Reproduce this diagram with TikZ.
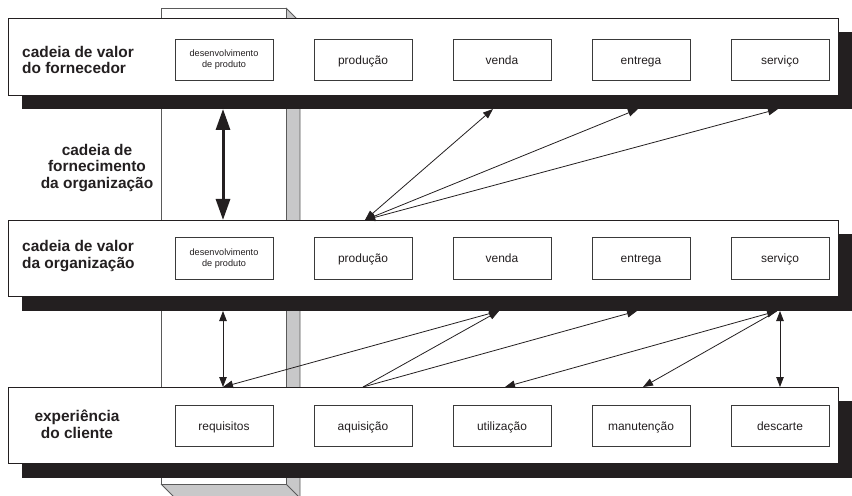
\documentclass[tikz,border=0pt]{standalone}
\usepackage{fontspec}
\setmainfont{Liberation Sans}
\usetikzlibrary{arrows.meta}
\definecolor{ink}{HTML}{231F20}
\definecolor{sidegray}{HTML}{C8C8C9}
\definecolor{pillaredge}{HTML}{5A5A5A}
\definecolor{boxedge}{HTML}{3A3A3A}

\tikzset{
  thintip/.tip={Triangle[length=10bp,width=7.5bp]},
  heavytip/.tip={Triangle[length=21bp,width=14bp]}
}

\begin{document}
\begin{tikzpicture}[x=1bp,y=-1bp,
  panel/.style={draw=ink,fill=white,line width=0.9bp},
  panelshadow/.style={fill=ink},
  pillarline/.style={draw=pillaredge,line width=0.8bp},
  stagebox/.style={draw=boxedge,fill=white,line width=0.8bp,minimum width=98bp,
    minimum height=41.5bp,inner sep=0pt,align=center,text=ink},
  stage/.style={stagebox,font=\fontsize{12}{14}\selectfont,
    text height=8.6bp,text depth=0.2bp},
  smallstage/.style={stagebox,font=\fontsize{9.2}{11}\selectfont},
  heading/.style={inner sep=0pt,text=ink,align=left,anchor=west,
    font=\fontsize{15.5}{17}\selectfont\bfseries},
  link/.style={draw=ink,line width=0.8bp,{thintip}-{thintip}},
  oneway/.style={draw=ink,line width=0.8bp,-{thintip}},
  strong link/.style={draw=ink,line width=3bp,{heavytip}-{heavytip}}
]
\useasboundingbox (0,0) rectangle (852,496);

% vertical pillar running behind the three bands
\fill[sidegray] (286,8) -- (300,22) -- (300,498) -- (286,484) -- cycle;
\fill[sidegray] (161,484) -- (286,484) -- (300,498) -- (175,498) -- cycle;
\fill[white] (161,8) rectangle (286,484);
\draw[pillarline] (161,8) rectangle (286,484);
\draw[pillarline] (286,8) -- (300,22) -- (300,498);
\draw[pillarline] (286,484) -- (300,498) (161,484) -- (175,498);

% shadows of the bands
\fill[panelshadow] (22,32) rectangle (852,109);
\fill[panelshadow] (22,234) rectangle (852,311);
\fill[panelshadow] (22,401) rectangle (852,478);

% the bands
\draw[panel] (8,18) rectangle (838,95);
\draw[panel] (8,220) rectangle (838,296);
\draw[panel] (8,387) rectangle (838,463);

% band titles
\node[heading] (t1) at (22,60) {cadeia de valor\\do fornecedor};
\node[heading] (t2) at (22,256.5) {cadeia de valor\\da organização};
\node[heading,align=center,anchor=center] (t3) at (77,424.5)
  {experiência\\do cliente};
\node[heading,align=center,anchor=center] (t0) at (97,168)
  {cadeia de\\fornecimento\\da organização};

% supplier value chain
\node[smallstage] (b11) at (224,60) {desenvolvimento\\de produto};
\node[stage] (b12) at (363,60) {produção};
\node[stage] (b13) at (502,60) {venda};
\node[stage] (b14) at (641,60) {entrega};
\node[stage] (b15) at (780,60) {serviço};

% organisation value chain
\node[smallstage] (b21) at (224,258.5) {desenvolvimento\\de produto};
\node[stage] (b22) at (363,258.5) {produção};
\node[stage] (b23) at (502,258.5) {venda};
\node[stage] (b24) at (641,258.5) {entrega};
\node[stage] (b25) at (780,258.5) {serviço};

% customer experience
\node[stage] (b31) at (224,426) {requisitos};
\node[stage] (b32) at (363,426) {aquisição};
\node[stage] (b33) at (502,426) {utilização};
\node[stage] (b34) at (641,426) {manutenção};
\node[stage] (b35) at (780,426) {descarte};

% attachment points on the band edges
\coordinate (s1a) at (223,109);
\coordinate (s1b) at (493,109);
\coordinate (s1c) at (638,109);
\coordinate (s1d) at (778,109);
\coordinate (p2a) at (223,220);
\coordinate (p2b) at (365,220);
\coordinate (s2a) at (223,311);
\coordinate (s2b) at (499,311);
\coordinate (s2c) at (637,311);
\coordinate (s2d) at (777,311);
\coordinate (s2e) at (780,311);
\coordinate (p3a) at (223,387);
\coordinate (p3b) at (363,387);
\coordinate (p3c) at (505,387);
\coordinate (p3d) at (643,387);
\coordinate (p3e) at (780,387);

% links between supplier and organisation
\draw[strong link] (s1a) -- (p2a);
\draw[link] (p2b) -- (s1b);
\draw[link] (p2b) -- (s1c);
\draw[link] (p2b) -- (s1d);

% links between organisation and customer
\draw[link] (s2a) -- (p3a);
\draw[link] (p3a) -- (s2b);
\draw[oneway] (p3b) -- (s2b);
\draw[oneway] (p3b) -- (s2c);
\draw[link] (s2d) -- (p3c);
\draw[oneway] (s2d) -- (p3d);
\draw[link] (s2e) -- (p3e);
\end{tikzpicture}
\end{document}
